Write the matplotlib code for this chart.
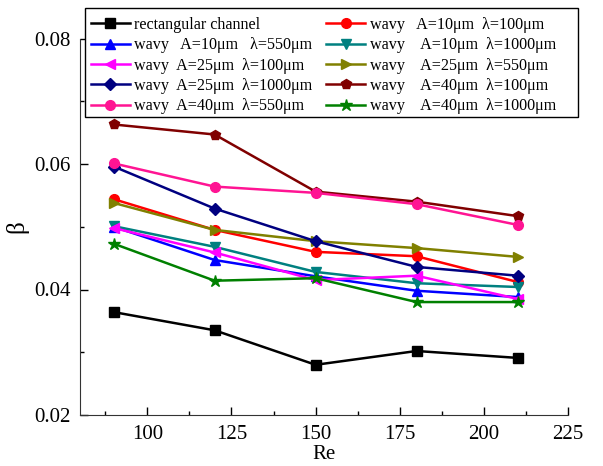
import numpy as np
import matplotlib
matplotlib.use("Agg")
import matplotlib.pyplot as plt
from matplotlib.patches import Rectangle
from matplotlib.ticker import MultipleLocator

plt.rcParams['font.family'] = ['Liberation Serif', 'DejaVu Serif']
plt.rcParams['mathtext.fontset'] = 'stix'

re = [90, 120, 150, 180, 210]

rect = [0.0364, 0.0335, 0.0280, 0.0302, 0.0291]
a10_l100 = [0.0544, 0.0495, 0.0460, 0.0453, 0.0412]
a10_l550 = [0.0500, 0.0447, 0.0421, 0.0398, 0.0388]
a10_l1000 = [0.0501, 0.0468, 0.0428, 0.0410, 0.0404]
a25_l100 = [0.0498, 0.0459, 0.0415, 0.0422, 0.0385]
a25_l550 = [0.0538, 0.0495, 0.0477, 0.0466, 0.0452]
a25_l1000 = [0.0596, 0.0529, 0.0477, 0.0436, 0.0422]
a40_l100 = [0.0663, 0.0647, 0.0556, 0.0540, 0.0517]
a40_l550 = [0.0601, 0.0564, 0.0554, 0.0536, 0.0503]
a40_l1000 = [0.0473, 0.0414, 0.0418, 0.0380, 0.0380]

labels = [
    "rectangular channel",
    "wavy   A=10μm  λ=100μm",
    "wavy   A=10μm   λ=550μm",
    "wavy    A=10μm  λ=1000μm",
    "wavy  A=25μm  λ=100μm",
    "wavy    A=25μm  λ=550μm",
    "wavy  A=25μm  λ=1000μm",
    "wavy    A=40μm  λ=100μm",
    "wavy  A=40μm  λ=550μm",
    "wavy    A=40μm  λ=1000μm",
]

series = [rect, a10_l100, a10_l550, a10_l1000, a25_l100,
          a25_l550, a25_l1000, a40_l100, a40_l550, a40_l1000]
colors = ['#000000', '#ff0000', '#0000ff', '#008080', '#ff00ff',
          '#808000', '#000080', '#800000', '#ff1493', '#008000']
markers = ['s', 'o', '^', 'v', '<', '>', 'D', 'p', 'o', '*']

W, H = 603, 466
fig = plt.figure(figsize=(W / 100, H / 100), dpi=100)
ax = fig.add_axes([80/W, 51/H, 488/W, 376.5/H])

handles = {}
for y, c, m, lab in zip(series, colors, markers, labels):
    ms = 9 if m == '*' else 7
    if m == 'D':
        ms = 6
    h, = ax.plot(re, y, color=c, marker=m, markersize=ms, linewidth=1.8,
                 markeredgecolor=c, label=lab)
    handles[lab] = h

# legend reads row by row: left column then right column
order = [0, 2, 4, 6, 8, 1, 3, 5, 7, 9]
hs = [handles[labels[i]] for i in order]
ls = [labels[i] for i in order]
leg = fig.legend(hs, ls, loc='upper left', ncol=2, mode='expand',
                 bbox_to_anchor=(86/W, 1 - 115/H, 475/W, 103/H),
                 fontsize=11.6, frameon=False,
                 handlelength=2.4, handletextpad=0.3, labelspacing=0.27,
                 borderaxespad=0.0, borderpad=0.3, columnspacing=0.8)

# box around the legend, a little wider than its entries
fig.patches.append(Rectangle((85/W, 1 - 117/H), 493/W, 109/H,
                             transform=fig.transFigure, fill=True,
                             facecolor='white', edgecolor='black',
                             linewidth=1.0, zorder=4))
leg.set_zorder(5)

ax.set_xlim(80, 225)
ax.set_ylim(0.02, 0.08)
ax.xaxis.set_major_locator(MultipleLocator(25))
ax.xaxis.set_minor_locator(MultipleLocator(12.5))
ax.yaxis.set_major_locator(MultipleLocator(0.02))
ax.yaxis.set_minor_locator(MultipleLocator(0.01))
ax.set_xticks([100, 125, 150, 175, 200, 225])
ax.tick_params(which='major', direction='in', length=6, width=1, labelsize=15, pad=7)
ax.tick_params(which='minor', direction='in', length=3, width=1)
ax.spines['top'].set_visible(False)
ax.spines['right'].set_visible(False)
for s in ['left', 'bottom']:
    ax.spines[s].set_color('#333333')

ax.set_xlabel("Re", fontsize=15, labelpad=1)
ax.set_ylabel("β", fontsize=18, labelpad=4)

fig.savefig("out.png", dpi=100)
